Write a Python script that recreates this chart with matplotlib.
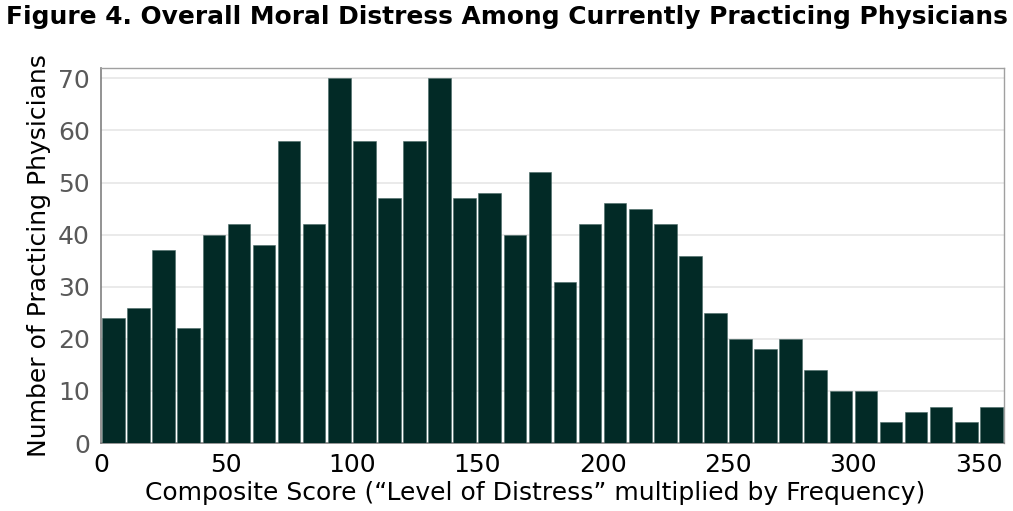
import matplotlib
matplotlib.use("Agg")
import matplotlib.pyplot as plt
import numpy as np

bin_starts = list(range(0, 360, 10))
counts = [24, 26, 37, 22, 40, 42, 38, 58, 42, 70, 58, 47, 58, 70, 47, 48, 40, 52,
          31, 42, 46, 45, 42, 36, 25, 20, 18, 20, 14, 10, 10, 4, 6, 7, 4, 7]
x_ticks = [0, 50, 100, 150, 200, 250, 300, 350]
y_ticks = [0, 10, 20, 30, 40, 50, 60, 70]

title = "Figure 4. Overall Moral Distress Among Currently Practicing Physicians"
xlabel = "Composite Score (\u201cLevel of Distress\u201d multiplied by Frequency)"
ylabel = "Number of Practicing Physicians"

plt.rcParams['font.family'] = ['DejaVu Sans']
fig = plt.figure(figsize=(10.13, 5.11), dpi=100)
ax = fig.add_axes([0.0997, 0.133, 0.8913, 0.734])

ax.bar(np.array(bin_starts) + 5, counts, width=9.0, color='#022a26',
       edgecolor='#4a6a66', linewidth=0.4, zorder=3)

ax.set_xlim(0, 360)
ax.set_ylim(0, 72)
ax.set_xticks(x_ticks)
ax.set_yticks(y_ticks)
ax.grid(axis='y', color='#e6e6e6', linewidth=1.2, zorder=0)
ax.tick_params(axis='both', length=0)
ax.tick_params(axis='x', labelsize=18, labelcolor='black', pad=7)
ax.tick_params(axis='y', labelsize=18, labelcolor='#595959', pad=8)
for s in ['left', 'bottom']:
    ax.spines[s].set_color('#808080')
    ax.spines[s].set_linewidth(1.2)
for s in ['top', 'right']:
    ax.spines[s].set_color('#a0a0a0')
    ax.spines[s].set_linewidth(1.0)

ax.set_xlabel(xlabel, fontsize=18)
ax.xaxis.set_label_coords(0.481, -0.1)
ax.set_ylabel(ylabel, fontsize=18, labelpad=5)
fig.text(0.5, 0.99, title, fontsize=17.9, fontweight='heavy', ha='center', va='top')

fig.savefig("out.png", dpi=100)
